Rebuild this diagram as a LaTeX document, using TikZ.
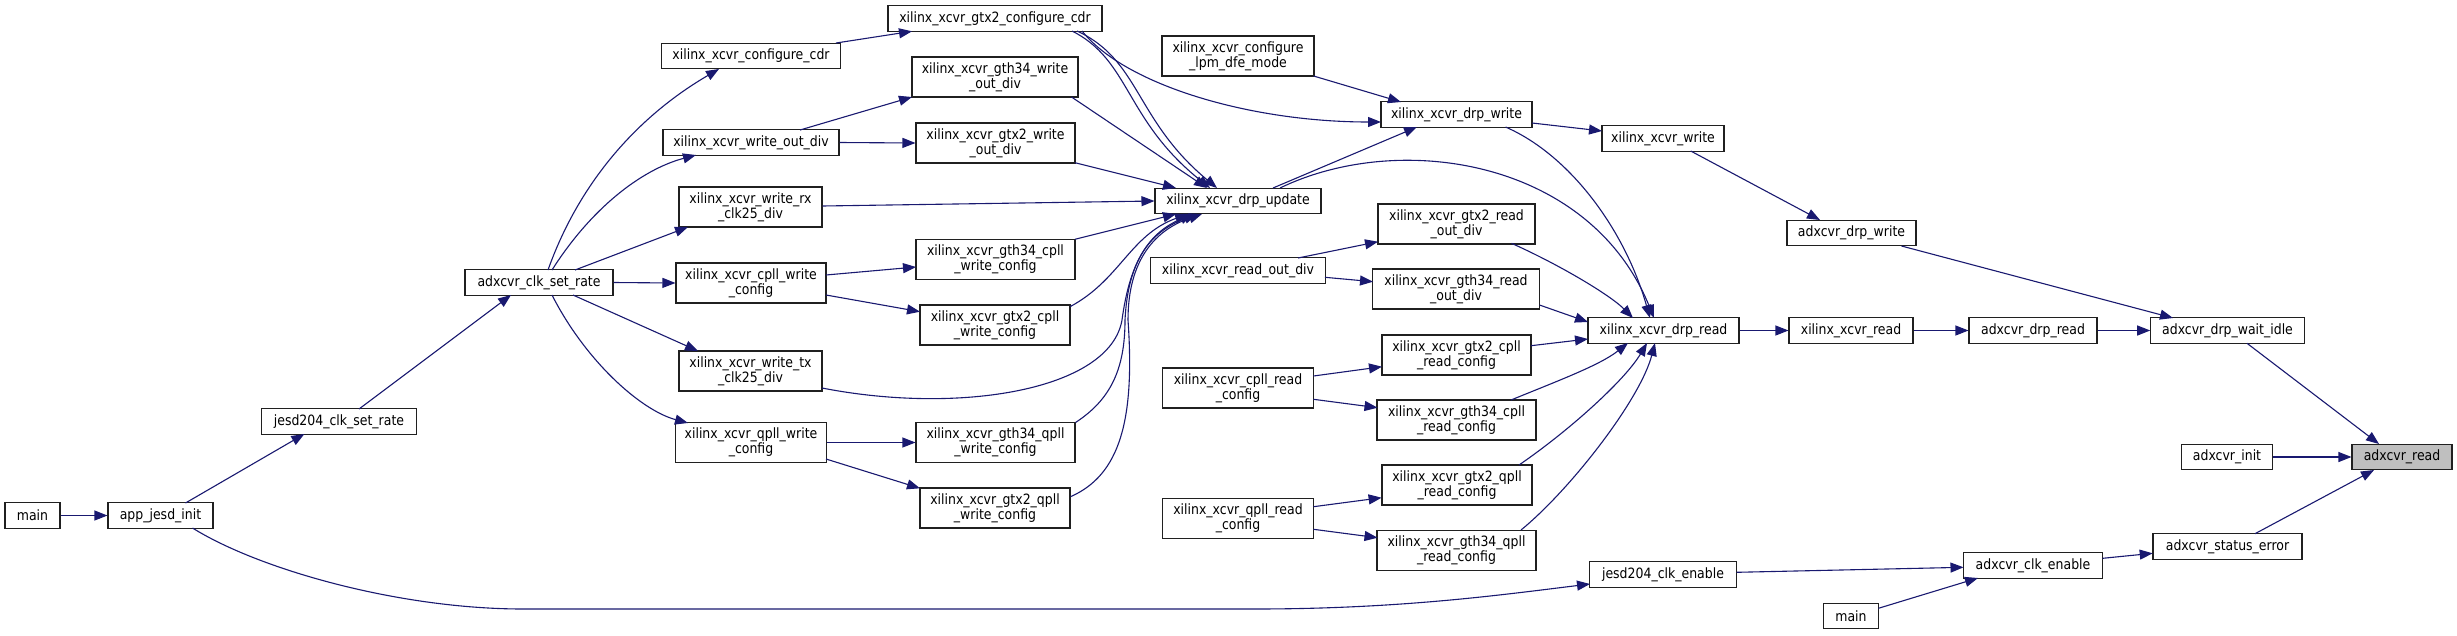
\documentclass[tikz,border=0pt]{standalone}
\usepackage{fontspec}
\setmainfont{DejaVu Sans}[FakeStretch=0.88]
\usetikzlibrary{arrows.meta,calc}
\definecolor{edgeblue}{HTML}{191970}
\definecolor{nodegray}{HTML}{BFBFBF}
\definecolor{boxline}{HTML}{202020}
\begin{document}
\begin{tikzpicture}[x=1pt,y=-1pt,
 box/.style={draw=boxline, line width=1.1pt, rectangle, inner sep=0pt, fill=white, align=center, font=\fontsize{14.2}{15}\selectfont},
 one/.style={box, minimum height=25.5pt},
 two/.style={box, minimum height=40pt},
 edge/.style={draw=edgeblue, line width=1.1pt, -{Triangle[length=13pt,width=10pt]}}]
\useasboundingbox[fill=white] (0,0) rectangle (2457,635);
% nodes
\node[one, minimum width=55pt] (main1) at (32.5,515.5) {main};
\node[one, minimum width=105pt] (app) at (160.5,515.5) {app\_jesd\_init};
\node[one, minimum width=155.5pt] (jsr) at (339,421.5) {jesd204\_clk\_set\_rate};
\node[one, minimum width=148pt] (acsr) at (539,282.5) {adxcvr\_clk\_set\_rate};
\node[one, minimum width=178.5pt] (cfgcdr) at (751,56) {xilinx\_xcvr\_configure\_cdr};
\node[one, minimum width=176pt] (wod) at (751,142.5) {xilinx\_xcvr\_write\_out\_div};
\node[two, minimum width=143pt] (wrx) at (750.5,207) {xilinx\_xcvr\_write\_rx\\\_clk25\_div};
\node[two, minimum width=150pt] (cwc) at (751,283) {xilinx\_xcvr\_cpll\_write\\\_config};
\node[two, minimum width=143pt] (wtx) at (750.5,371) {xilinx\_xcvr\_write\_tx\\\_clk25\_div};
\node[two, minimum width=151.5pt] (qwc) at (751,442.5) {xilinx\_xcvr\_qpll\_write\\\_config};
\node[one, minimum width=214pt] (gcdr) at (995,18.5) {xilinx\_xcvr\_gtx2\_configure\_cdr};
\node[two, minimum width=166pt] (g34wod) at (995,77) {xilinx\_xcvr\_gth34\_write\\\_out\_div};
\node[two, minimum width=159pt] (g2wod) at (995.5,143) {xilinx\_xcvr\_gtx2\_write\\\_out\_div};
\node[two, minimum width=159pt] (g34cwc) at (995.5,259.5) {xilinx\_xcvr\_gth34\_cpll\\\_write\_config};
\node[two, minimum width=150pt] (g2cwc) at (995,325) {xilinx\_xcvr\_gtx2\_cpll\\\_write\_config};
\node[two, minimum width=159pt] (g34qwc) at (995.5,442.5) {xilinx\_xcvr\_gth34\_qpll\\\_write\_config};
\node[two, minimum width=150pt] (g2qwc) at (995,508) {xilinx\_xcvr\_gtx2\_qpll\\\_write\_config};
\node[two, minimum width=152pt] (lpm) at (1238,56) {xilinx\_xcvr\_configure\\\_lpm\_dfe\_mode};
\node[one, minimum width=166pt] (dupd) at (1238,201) {xilinx\_xcvr\_drp\_update};
\node[one, minimum width=174.5pt] (rod) at (1238,270.5) {xilinx\_xcvr\_read\_out\_div};
\node[two, minimum width=151pt] (crc) at (1238,388) {xilinx\_xcvr\_cpll\_read\\\_config};
\node[two, minimum width=151pt] (qrc) at (1238,518.5) {xilinx\_xcvr\_qpll\_read\\\_config};
\node[one, minimum width=151pt] (dwr) at (1456.5,114.5) {xilinx\_xcvr\_drp\_write};
\node[two, minimum width=157pt] (g2rod) at (1456.5,224) {xilinx\_xcvr\_gtx2\_read\\\_out\_div};
\node[two, minimum width=166.5pt] (g34rod) at (1456,289) {xilinx\_xcvr\_gth34\_read\\\_out\_div};
\node[two, minimum width=149pt] (g2crc) at (1456.5,355) {xilinx\_xcvr\_gtx2\_cpll\\\_read\_config};
\node[two, minimum width=159pt] (g34crc) at (1456.5,420) {xilinx\_xcvr\_gth34\_cpll\\\_read\_config};
\node[two, minimum width=150pt] (g2qrc) at (1457,485) {xilinx\_xcvr\_gtx2\_qpll\\\_read\_config};
\node[two, minimum width=159pt] (g34qrc) at (1456.5,550.5) {xilinx\_xcvr\_gth34\_qpll\\\_read\_config};
\node[one, minimum width=122pt] (xwr) at (1663,138.5) {xilinx\_xcvr\_write};
\node[one, minimum width=151pt] (drd) at (1663.5,330.5) {xilinx\_xcvr\_drp\_read};
\node[one, minimum width=146.5pt] (jce) at (1663,574.5) {jesd204\_clk\_enable};
\node[one, minimum width=129pt] (adw) at (1851.5,233) {adxcvr\_drp\_write};
\node[one, minimum width=124pt] (xrd) at (1851,330.5) {xilinx\_xcvr\_read};
\node[one, minimum width=54.5pt] (main2) at (1851,616) {main};
\node[one, minimum width=128pt] (adr) at (2033,330.5) {adxcvr\_drp\_read};
\node[one, minimum width=139pt] (ace) at (2033,565.5) {adxcvr\_clk\_enable};
\node[one, minimum width=153.5pt] (dwi) at (2227.5,330.5) {adxcvr\_drp\_wait\_idle};
\node[one, minimum width=90.7pt] (ainit) at (2227,457) {adxcvr\_init};
\node[one, minimum width=149pt] (ase) at (2227.5,546.5) {adxcvr\_status\_error};
\node[one, minimum width=100pt, fill=nodegray] (ard) at (2402,457) {adxcvr\_read};
% edges
\draw[edge] (main1.east) -- (app.west);
\draw[edge] ($(app)+(25,-12.5)$) -- ($(jsr)+(-34.6,12.5)$);
\draw[edge] ($(app)+(32,12.5)$) .. controls (260,570) and (400,609) .. (523,609) -- (1254,609) .. controls (1400,609) and (1500,595) .. ($(jce)+(-73,9.5)$);
\draw[edge] ($(jsr)+(20,-12.5)$) -- ($(acsr)+(-28,12.5)$);
\draw[edge] ($(acsr)+(9,-12.5)$) .. controls (580,180) and (640,115) .. ($(cfgcdr)+(-32,13)$);
\draw[edge] ($(acsr)+(13,-12.5)$) .. controls (590,210) and (640,170) .. ($(wod)+(-55,12.5)$);
\draw[edge] ($(acsr)+(36,-12.5)$) -- ($(wrx)+(-62.5,20)$);
\draw[edge] (acsr.east) -- (cwc.west);
\draw[edge] ($(acsr)+(34,12.5)$) -- ($(wtx)+(-52.5,-20)$);
\draw[edge] ($(acsr)+(13,12.5)$) .. controls (585,360) and (640,410) .. ($(qwc)+(-63,-19.5)$);
\draw[edge] ($(cfgcdr)+(85,-13)$) -- ($(gcdr)+(-83,12.8)$);
\draw[edge] ($(wod)+(49,-12.5)$) -- ($(g34wod)+(-83,20)$);
\draw[edge] (wod.east) -- (g2wod.west);
\draw[edge] ($(wrx.east)+(0,-1)$) -- (dupd.west);
\draw[edge] ($(cwc)+(75,-8)$) -- ($(g34cwc)+(-79.5,7.5)$);
\draw[edge] ($(cwc)+(75,12)$) -- ($(g2cwc)+(-75,-13.3)$);
\draw[edge] ($(wtx)+(71.5,17)$) .. controls (960,415) and (1110,390) .. (1122,320) .. controls (1130,260) and (1150,232) .. ($(dupd)+(-45,13)$);
\draw[edge] (qwc.east) -- (g34qwc.west);
\draw[edge] ($(qwc)+(75,16.5)$) -- ($(g2qwc)+(-75,-19.7)$);
\draw[edge] ($(gcdr)+(77,12.5)$) .. controls (1130,60) and (1125,120) .. ($(dupd)+(-28,-13)$);
\draw[edge] ($(gcdr)+(82,12.5)$) .. controls (1140,60) and (1135,120) .. ($(dupd)+(-21,-13)$);
\draw[edge] ($(gcdr)+(87,12.5)$) .. controls (1125,85) and (1250,122) .. ($(dwr)+(-75.5,7.5)$);
\draw[edge] ($(g34wod)+(76.5,20)$) -- ($(dupd)+(-31,-13)$);
\draw[edge] ($(g2wod)+(79.5,19.7)$) -- ($(dupd)+(-62,-13)$);
\draw[edge] ($(g34cwc)+(79.5,-20.2)$) -- ($(dupd)+(-62,13)$);
\draw[edge] ($(g2cwc)+(75,-18.3)$) .. controls (1120,280) and (1130,235) .. ($(dupd)+(-50,13)$);
\draw[edge] ($(g34qwc)+(80,-20)$) .. controls (1110,400) and (1125,370) .. (1125,320) .. controls (1128,260) and (1150,232) .. ($(dupd)+(-41,13)$);
\draw[edge] ($(g2qwc)+(75.5,-11.3)$) .. controls (1120,475) and (1135,420) .. (1128,320) .. controls (1128,260) and (1155,230) .. ($(dupd)+(-36,13)$);
\draw[edge] ($(lpm)+(75.6,20)$) -- ($(dwr)+(-55.5,-12.5)$);
\draw[edge] ($(dupd)+(35,-13)$) -- ($(dwr)+(-39.5,12.5)$);
\draw[edge] ($(dupd)+(42,-13)$) .. controls (1400,130) and (1590,160) .. ($(drd)+(-9.5,-12.5)$);
\draw[edge] ($(dwr)+(75.5,8.5)$) -- ($(xwr)+(-61,-7.5)$);
\draw[edge] ($(dwr)+(49,12.5)$) .. controls (1570,155) and (1625,230) .. ($(drd)+(-13.5,-12.5)$);
\draw[edge] ($(g2rod)+(55,19.3)$) .. controls (1560,265) and (1610,295) .. ($(drd)+(-30.5,-12.5)$);
\draw[edge] ($(g34rod)+(83.5,16)$) -- ($(drd)+(-75.5,-8.5)$);
\draw[edge] ($(g2crc)+(74.5,-9.3)$) -- ($(drd)+(-75.5,8.5)$);
\draw[edge] ($(g34crc)+(54.5,-20)$) .. controls (1560,380) and (1600,365) .. ($(drd)+(-35.5,12.5)$);
\draw[edge] ($(g2qrc)+(62,-20)$) .. controls (1570,430) and (1625,380) .. ($(drd)+(-16.5,12.5)$);
\draw[edge] ($(g34qrc)+(64.5,-20.5)$) .. controls (1570,490) and (1640,400) .. ($(drd)+(-8.5,12.5)$);
\draw[edge] ($(rod)+(60,-12.5)$) -- ($(g2rod)+(-78.5,17.7)$);
\draw[edge] ($(rod)+(87,6.8)$) -- ($(g34rod)+(-83,-7.3)$);
\draw[edge] ($(crc)+(75.5,-12)$) -- ($(g2crc)+(-74.5,11.7)$);
\draw[edge] ($(crc)+(75.5,11.3)$) -- ($(g34crc)+(-79,-12.3)$);
\draw[edge] ($(qrc)+(75.5,-11.8)$) -- ($(g2qrc)+(-75.4,12.7)$);
\draw[edge] ($(qrc)+(75.5,10.8)$) -- ($(g34qrc)+(-79,-12.8)$);
\draw[edge] ($(xwr)+(27.7,12.5)$) -- ($(adw)+(-31.5,-13)$);
\draw[edge] ($(adw)+(50,13)$) -- ($(dwi)+(-54.5,-12.5)$);
\draw[edge] (drd.east) -- (xrd.west);
\draw[edge] (xrd.east) -- (adr.west);
\draw[edge] (adr.east) -- (dwi.west);
\draw[edge] ($(dwi)+(19.5,12.8)$) -- ($(ard)+(-23,-13)$);
\draw[edge] (ainit.east) -- (ard.west);
\draw[edge] ($(ase)+(27.5,-12.8)$) -- ($(ard)+(-28,13)$);
\draw[edge] ($(ace)+(69.6,-7.2)$) -- ($(ase)+(-74.8,6.8)$);
\draw[edge] ($(jce)+(73.5,-2.2)$) -- ($(ace)+(-69.5,1.8)$);
\draw[edge] ($(main2)+(27.4,-7.7)$) -- ($(ace)+(-55,12.5)$);
\end{tikzpicture}
\end{document}
